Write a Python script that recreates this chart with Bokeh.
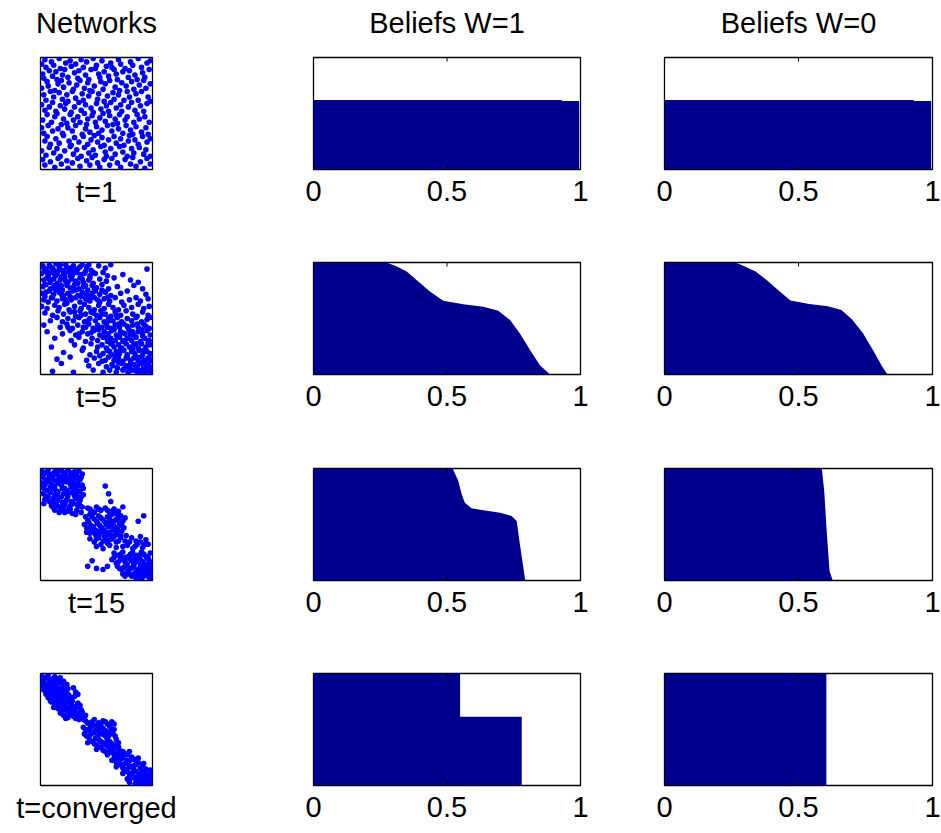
import math
from bokeh.plotting import figure
from bokeh.layouts import column, row
from bokeh.models import Range1d, FixedTicker, Title
from bokeh.embed import file_html
from bokeh.resources import INLINE

# ---------------- data ----------------
ROW_LABELS = ["t=1", "t=5", "t=15", "t=converged"]
COL_TITLES = ["Networks", "Beliefs W=1", "Beliefs W=0"]
X_TICKS = [0, 0.5, 1]

# network adjacency entries (column index, row index) in percent of agents
NET_T1 = [(0,5),(3,1),(4,8),(9,3),(11,6),(16,0),(17,9),(22,4),(26,2),(27,7),(31,5),(36,1),(38,8),(41,3),(47,0),(49,9),(50,6),(55,2),(59,7),(63,4),(64,8),(70,1),(72,5),(76,9),(81,3),(83,6),(88,0),(91,8),(96,4),(99,2),
          (1,14),(2,18),(7,11),(10,16),(13,12),(14,19),(19,15),(21,10),(24,17),(30,13),(33,18),(34,11),(40,15),(43,19),(45,10),(52,14),(53,17),(57,12),(61,16),(66,10),(68,14),(69,19),(74,12),(79,17),(80,11),(85,15),(87,19),(92,13),(94,17),(98,10),
          (0,27),(5,21),(6,25),(12,29),(15,23),(18,20),(20,26),(25,22),(29,28),(32,24),(35,20),(39,27),(42,22),(44,29),(48,25),(54,21),(56,28),(58,23),(62,20),(67,26),(71,29),(73,22),(77,25),(82,21),(84,28),(89,24),(93,20),(95,27),(99,23),
          (2,33),(4,38),(8,30),(11,35),(16,31),(19,37),(23,33),(24,39),(28,30),(31,36),(37,32),(38,38),(43,34),(46,30),(51,37),(52,32),(57,39),(60,34),(65,31),(66,37),(70,33),(75,38),(78,30),(80,35),(86,32),(88,38),(91,30),(97,35),(99,39),
          (0,42),(3,47),(7,44),(10,40),(13,48),(17,43),(21,46),(22,41),(27,49),(30,44),(34,40),(36,47),(40,42),(45,45),(47,49),(50,41),(54,46),(59,43),(61,48),(63,40),(68,45),(72,42),(73,48),(79,44),(82,40),(85,47),(90,43),(93,48),(96,41),
          (1,56),(5,51),(9,58),(12,53),(14,50),(20,55),(23,59),(26,51),(29,56),(33,53),(35,58),(39,50),(42,55),(46,52),(49,58),(53,54),(56,50),(58,57),(62,52),(67,55),(69,59),(71,51),(76,56),(78,53),(84,58),(87,51),(89,55),(94,53),(98,58),
          (0,63),(2,68),(6,61),(10,66),(15,64),(18,60),(19,68),(24,63),(28,66),(31,61),(37,69),(40,64),(41,60),(44,67),(50,62),(52,68),(55,65),(60,61),(64,66),(65,60),(70,64),(74,68),(77,61),(81,65),(83,69),(86,62),(91,67),(95,63),(97,69),
          (3,75),(5,71),(8,78),(13,73),(16,77),(20,70),(25,75),(27,79),(30,72),(34,76),(38,71),(42,78),(45,74),(48,70),(51,76),(55,72),(57,79),(61,74),(66,71),(68,77),(72,73),(75,79),(79,75),(80,70),(85,74),(88,78),(92,71),(96,76),(99,73),
          (0,84),(4,88),(7,81),(11,86),(14,82),(17,89),(21,84),(26,80),(29,87),(32,83),(36,89),(39,81),(43,86),(47,83),(49,88),(54,80),(58,85),(59,89),(63,82),(67,87),(71,80),(74,85),(78,89),(82,82),(84,86),(89,81),(93,87),(95,83),(99,89),
          (1,92),(3,97),(8,94),(12,99),(15,91),(18,96),(23,93),(24,100),(28,95),(33,91),(35,98),(41,93),(44,97),(46,90),(51,95),(53,99),(57,92),(62,97),(64,91),(69,95),(72,99),(76,92),(81,96),(83,90),(86,98),(90,94),(94,100),(96,91),(99,96)]

NET_T5 = [(1,2),(4,5),(7,1),(10,4),(13,0),(16,3),(19,6),(22,1),(26,4),(29,2),(33,5),(37,1),(41,3),(45,6),(52,2),(58,4),(63,1),(96,5),
          (0,9),(3,7),(6,11),(9,8),(12,10),(15,7),(18,12),(21,9),(25,7),(28,11),(32,8),(36,10),(40,7),(44,11),(49,9),(56,8),(60,11),(74,10),
          (2,15),(5,13),(8,17),(11,14),(14,18),(17,15),(21,13),(24,17),(27,14),(31,16),(35,13),(38,17),(43,15),(47,18),(53,14),(59,16),(66,13),(81,15),(88,17),
          (1,21),(4,19),(8,23),(12,20),(15,22),(19,24),(23,20),(26,22),(30,19),(34,23),(38,21),(42,24),(46,20),(50,22),(55,19),(61,23),(69,21),(84,20),(92,23),
          (0,27),(3,30),(7,25),(11,28),(16,26),(20,29),(24,27),(28,25),(33,29),(37,26),(41,28),(45,30),(49,25),(53,28),(58,26),(63,29),(72,27),(78,25),(95,28),
          (2,33),(6,35),(10,31),(14,34),(19,32),(23,36),(27,33),(31,31),(35,35),(40,32),(44,34),(48,31),(53,35),(57,32),(62,34),(67,31),(73,35),(80,33),(86,31),(90,34),(97,32),
          (0,39),(5,41),(12,38),(16,40),(21,37),(25,42),(30,39),(36,41),(39,37),(43,40),(48,42),(52,38),(57,41),(61,37),(65,40),(70,42),(75,38),(82,40),(88,37),(93,41),(98,39),
          (3,45),(10,47),(15,43),(20,46),(26,44),(31,48),(35,43),(40,46),(45,44),(50,47),(54,43),(58,46),(63,48),(67,44),(72,47),(77,43),(83,46),(87,48),(92,44),(97,47),
          (8,52),(14,49),(19,53),(24,50),(29,52),(34,49),(39,53),(44,50),(49,52),(53,49),(57,53),(61,50),(65,52),(69,49),(73,53),(78,50),(82,52),(86,49),(91,53),(96,51),(99,49),
          (2,56),(17,58),(23,55),(28,59),(33,56),(38,58),(43,55),(47,59),(51,56),(55,58),(59,55),(63,59),(67,56),(71,58),(75,55),(79,59),(83,56),(88,58),(93,55),(98,59),
          (5,62),(19,64),(26,61),(31,65),(37,62),(42,64),(48,61),(53,65),(57,62),(61,64),(64,61),(68,65),(72,62),(76,64),(80,61),(84,65),(88,62),(92,64),(96,61),(99,65),
          (12,68),(27,70),(34,67),(40,71),(46,68),(51,70),(56,67),(60,71),(63,68),(67,70),(71,67),(74,71),(78,68),(82,70),(86,67),(90,71),(94,68),(98,70),
          (9,76),(30,74),(38,77),(45,73),(51,76),(55,74),(59,77),(63,73),(66,76),(70,74),(73,77),(77,73),(80,76),(84,74),(88,77),(91,73),(95,76),(99,74),
          (20,81),(37,79),(44,83),(50,80),(56,82),(60,79),(64,83),(68,80),(71,82),(75,79),(78,83),(82,80),(85,82),(89,79),(92,83),(96,80),(99,82),
          (14,87),(26,85),(41,88),(48,86),(55,89),(61,85),(66,88),(70,86),(74,89),(78,85),(81,88),(84,86),(88,89),(91,85),(94,88),(97,86),(99,89),
          (18,91),(43,93),(52,91),(59,94),(64,92),(69,95),(73,91),(77,93),(80,95),(84,92),(87,94),(90,91),(93,95),(96,92),(99,94),
          (10,98),(29,99),(47,97),(56,99),(62,97),(68,99),(74,97),(79,99),(83,97),(87,99),(91,97),(94,99),(97,97),(99,100),
          (2,4),(5,8),(8,3),(11,6),(14,9),(17,1),(20,10),(23,4),(27,8),(30,5),(35,3),(39,9),(43,1),(47,8),(3,19),(7,14),(10,22),(13,11),(18,20),(22,16),
          (26,11),(29,22),(33,18),(37,14),(40,20),(44,13),(48,23),(4,26),(9,31),(13,24),(18,28),(22,33),(26,30),(31,24),(36,30),(42,33),(46,27),(51,33),(55,24),(60,31),
          (60,58),(66,60),(70,55),(74,63),(78,57),(83,62),(87,55),(91,60),(95,57),(58,67),(64,73),(69,66),(75,70),(81,65),(86,73),(92,66),(97,72),(62,80),(67,84),
          (72,78),(77,86),(83,78),(87,85),(93,79),(98,86),(65,93),(70,90),(75,96),(81,91),(86,96),(92,90),(96,95),(58,88),(53,84),(100,97),(89,100),(79,100),
          (30,44),(36,47),(42,52),(47,45),(55,46),(62,52),(68,47),(40,58),(45,63),(52,60),(24,58),(34,64)]

NET_T15 = [(0,1),(3,3),(6,0),(9,4),(12,2),(15,5),(18,1),(21,3),(24,0),(27,4),(30,2),(34,1),(37,4),
           (1,7),(4,9),(7,6),(10,8),(13,10),(16,7),(19,9),(22,6),(25,8),(29,10),(32,7),(35,9),
           (0,12),(3,14),(6,11),(9,13),(12,15),(15,12),(18,14),(22,11),(26,13),(30,15),(33,12),(37,14),
           (2,17),(5,19),(8,16),(12,18),(15,20),(19,17),(23,19),(27,16),(31,18),(35,20),(38,17),
           (1,22),(4,24),(8,21),(12,23),(16,25),(20,22),(24,24),(28,21),(32,23),(36,25),
           (3,27),(7,29),(11,26),(15,28),(19,30),(23,27),(27,29),(31,26),(35,28),
           (2,31),(9,33),(13,31),(17,34),(21,32),(25,35),(29,31),(33,33),(37,34),
           (12,37),(16,39),(20,36),(24,38),(28,40),(32,37),(36,39),
           (61,22),(63,29),(58,15),
           (42,35),(46,38),(50,34),(54,37),(58,35),(62,39),(66,36),(70,38),(74,34),
           (40,43),(44,41),(48,45),(52,42),(56,46),(60,43),(64,41),(68,45),(72,42),(76,44),
           (39,50),(43,48),(47,52),(51,49),(55,53),(59,50),(63,48),(67,52),(71,49),(75,53),
           (41,57),(45,55),(49,59),(53,56),(57,60),(61,57),(65,55),(69,59),(73,56),(77,60),
           (44,63),(48,66),(52,62),(56,65),(60,67),(64,63),(68,66),(72,62),(76,65),
           (50,70),(56,72),(62,69),(68,71),(74,70),
           (88,47),(93,42),(42,88),(50,90),(56,91),(60,88),(46,83),
           (82,62),(86,65),(90,61),(95,64),
           (78,69),(83,72),(87,68),(92,71),(97,68),
           (66,76),(70,78),(74,75),(79,79),(83,76),(87,78),(91,75),(95,79),(99,76),
           (64,82),(68,85),(72,81),(76,84),(80,81),(84,85),(88,82),(92,84),(96,81),(99,85),
           (69,88),(73,91),(77,87),(81,90),(84,87),(87,91),(90,88),(93,90),(96,87),(99,91),
           (74,95),(78,93),(82,97),(85,94),(88,99),(90,95),(92,98),(94,93),(96,96),(98,99),(100,94),(86,100),
           (90,85),(95,89),(97,95),(93,97),(100,98),(99,88),
           (2,4),(5,2),(8,7),(11,5),(14,1),(17,9),(20,5),(23,11),(26,3),(29,6),(32,3),(36,7),(1,16),(4,12),(7,19),(10,16),(14,22),(17,13),(21,17),(24,21),
           (28,13),(31,21),(34,15),(6,25),(10,29),(14,33),(18,25),(22,29),(26,33),(30,24),(34,30),(38,23),(17,37),(21,39),(26,36),(31,41),(35,33),(11,35),
           (44,36),(48,39),(52,36),(60,37),(64,38),(68,40),(42,46),(46,43),(50,47),(54,44),(58,48),(62,45),(66,47),(70,44),(74,47),(41,53),(45,51),(49,55),
           (53,51),(57,55),(61,52),(65,51),(69,54),(73,51),(44,58),(48,57),(52,60),(56,57),(60,59),(64,60),(68,57),(72,60),(50,63),(58,63),(66,61),(70,65),(54,68),(62,64),
           (80,66),(85,70),(90,66),(94,68),(72,77),(76,80),(81,77),(85,80),(89,78),(93,77),(97,80),(66,80),(70,84),(74,82),(78,86),(82,83),(86,84),(90,82),(94,86),(98,83),
           (71,90),(75,89),(79,92),(83,89),(87,93),(91,90),(95,92),(99,96),(76,97),(80,95),(84,96),(88,96),(92,92),(98,91)]

NET_TC = [(0,1),(3,3),(6,0),(9,4),(12,2),(15,4),
          (1,7),(4,9),(7,6),(10,8),(13,10),(16,7),(19,9),
          (3,12),(6,14),(9,11),(12,13),(15,15),(18,12),(21,14),(29,12),(31,16),
          (7,17),(10,19),(13,16),(16,18),(19,20),(22,17),(25,19),(33,18),
          (10,22),(13,24),(16,21),(19,23),(22,25),(25,22),(28,24),
          (12,27),(15,29),(18,26),(21,28),(24,30),(27,27),(30,29),(33,26),
          (15,31),(18,33),(21,32),(24,34),(27,31),(30,33),(33,35),(36,32),
          (20,37),(24,39),(28,36),(31,40),(35,38),(38,41),(40,37),
          (40,42),(44,45),(48,41),(52,44),(56,42),(60,45),(64,43),
          (38,48),(42,51),(46,47),(50,50),(54,48),(58,51),(62,47),(66,50),
          (39,54),(43,57),(47,53),(51,56),(55,54),(59,57),(63,53),(67,56),
          (44,60),(48,63),(52,59),(56,62),(60,60),(64,63),(68,59),
          (52,66),(56,69),(60,65),(64,68),(68,66),(71,69),
          (62,71),(66,73),(70,72),(74,70),(78,73),
          (66,77),(70,79),(74,76),(78,78),(82,75),(86,79),
          (70,82),(74,85),(78,81),(82,84),(86,82),(90,85),(93,81),
          (76,88),(80,91),(84,87),(88,90),(92,88),(96,91),(99,87),
          (82,94),(86,97),(89,93),(92,96),(95,94),(97,99),(99,95),(90,100),(100,100),(94,99),
          (2,5),(5,2),(8,7),(11,4),(14,8),(17,3),(20,6),(0,10),(2,14),(5,11),(8,16),(11,15),(14,12),(17,16),(20,11),(23,9),(24,13),(4,18),(6,21),(9,25),
          (12,19),(15,23),(18,17),(21,22),(24,18),(27,21),(30,20),(8,24),(11,30),(14,26),(17,30),(20,27),(23,31),(26,26),(29,33),(32,30),(35,28),(17,35),
          (20,32),(22,40),(26,36),(29,38),(32,36),(34,41),(37,34),(39,39),
          (42,44),(46,43),(50,46),(54,45),(58,43),(62,46),(66,45),(40,50),(44,49),(48,52),(52,51),(56,49),(60,52),(64,50),(41,56),(45,54),(49,58),(53,53),
          (57,55),(61,56),(65,54),(42,62),(46,61),(50,64),(54,61),(58,64),(62,61),(66,64),(70,62),(50,68),(54,66),(58,70),(62,67),(66,70),(70,66),
          (60,73),(64,70),(68,75),(72,74),(76,72),(80,70),(64,78),(68,80),(72,77),(76,81),(80,79),(84,77),(88,76),(68,84),(72,82),(76,86),(80,84),(84,83),
          (88,80),(92,83),(95,86),(74,90),(78,88),(82,90),(86,88),(90,90),(94,89),(98,92),(78,95),(80,98),(84,93),(88,95),(91,98),(93,92),(96,97),(98,96),
          (100,90),(85,100),(87,98)]

NETWORKS = [NET_T1, NET_T5, NET_T15, NET_TC]

# sorted beliefs: agent fraction (x) and belief (y)
W1_T1_X = [0, 0.93, 0.93, 0.995, 0.995]
W1_T1_Y = [0.62, 0.62, 0.612, 0.612, 0.0]
W1_T5_X = [0, 0.274, 0.312, 0.349, 0.386, 0.436, 0.486, 0.561, 0.636, 0.692, 0.736, 0.773, 0.811, 0.848, 0.886]
W1_T5_Y = [1.0, 1.0, 0.964, 0.919, 0.844, 0.740, 0.659, 0.627, 0.606, 0.570, 0.487, 0.367, 0.218, 0.083, 0.0]
W1_T15_X = [0, 0.521, 0.542, 0.555, 0.567, 0.592, 0.636, 0.699, 0.742, 0.761, 0.773, 0.786, 0.793]
W1_T15_Y = [1.0, 1.0, 0.89, 0.77, 0.695, 0.645, 0.627, 0.606, 0.576, 0.531, 0.323, 0.113, 0.0]
W1_TC_X = [0, 0.549, 0.549, 0.78, 0.78]
W1_TC_Y = [1.0, 1.0, 0.613, 0.613, 0.0]

W0_T1_X = [0, 0.93, 0.93, 0.995, 0.995]
W0_T1_Y = [0.62, 0.62, 0.612, 0.612, 0.0]
W0_T5_X = [0, 0.265, 0.30, 0.34, 0.38, 0.43, 0.47, 0.54, 0.61, 0.66, 0.70, 0.74, 0.78, 0.81, 0.832]
W0_T5_Y = [1.0, 1.0, 0.965, 0.92, 0.845, 0.74, 0.66, 0.63, 0.61, 0.575, 0.49, 0.37, 0.21, 0.08, 0.0]
W0_T15_X = [0, 0.587, 0.596, 0.606, 0.616, 0.628]
W0_T15_Y = [1.0, 1.0, 0.80, 0.41, 0.083, 0.0]
W0_TC_X = [0, 0.604, 0.604]
W0_TC_Y = [1.0, 1.0, 0.0]

BELIEFS_W1 = [(W1_T1_X, W1_T1_Y), (W1_T5_X, W1_T5_Y), (W1_T15_X, W1_T15_Y), (W1_TC_X, W1_TC_Y)]
BELIEFS_W0 = [(W0_T1_X, W0_T1_Y), (W0_T5_X, W0_T5_Y), (W0_T15_X, W0_T15_Y), (W0_TC_X, W0_TC_Y)]

# ---------------- styling ----------------
FONT = "Liberation Sans"
FS = "29px"
NAVY = "#00008F"
BLUE = "#0000FF"

HEADER_TOP = 38      # header strip holding the column titles
HEADER_FRAME = 1
ROW_TOP = [57 - HEADER_TOP - HEADER_FRAME, 45, 46, 46]
ROW_BOTTOM = [48, 48, 47, 48]
FRAME_H = 112
COL_W = [240, 360, 341]
COL_LEFT = [40, 73, 64]
COL_RIGHT = [88, 20, 9]


def header_fig(ci):
    p = figure(width=COL_W[ci], height=HEADER_TOP + HEADER_FRAME, title=COL_TITLES[ci],
               toolbar_location=None, output_backend="svg",
               min_border_left=COL_LEFT[ci], min_border_right=COL_RIGHT[ci],
               min_border_top=HEADER_TOP, min_border_bottom=0,
               x_range=Range1d(0, 1), y_range=Range1d(0, 1),
               background_fill_color="white", border_fill_color="white")
    p.title.align = "center"
    p.title.vertical_align = "bottom"
    p.title.text_font = FONT
    p.title.text_font_size = FS
    p.title.text_font_style = "normal"
    p.title.text_color = "black"
    p.title.standoff = 0
    p.outline_line_color = None
    p.xaxis.visible = False
    p.yaxis.visible = False
    p.xgrid.visible = False
    p.ygrid.visible = False
    return p


def base_fig(ci, ri):
    h = ROW_TOP[ri] + FRAME_H + ROW_BOTTOM[ri]
    p = figure(width=COL_W[ci], height=h, toolbar_location=None, output_backend="svg",
               min_border_left=COL_LEFT[ci], min_border_right=COL_RIGHT[ci],
               min_border_top=ROW_TOP[ri], min_border_bottom=ROW_BOTTOM[ri],
               background_fill_color="white", border_fill_color="white")
    p.outline_line_color = "black"
    p.outline_line_width = 1.3
    p.xgrid.visible = False
    p.ygrid.visible = False
    return p


def network_fig(ri):
    p = base_fig(0, ri)
    p.x_range = Range1d(-1, 101)
    p.y_range = Range1d(101, -1)
    p.xaxis.visible = False
    p.yaxis.visible = False
    pts = NETWORKS[ri]
    p.scatter([a for a, b in pts], [b for a, b in pts], size=5.6, color=BLUE, line_color=None)
    lab = Title(text=ROW_LABELS[ri], align="center", text_font=FONT, text_font_size=FS,
                text_font_style="normal", text_color="black", standoff=8)
    p.add_layout(lab, "below")
    return p


def belief_fig(ci, ri, data):
    p = base_fig(ci, ri)
    p.x_range = Range1d(0, 1)
    p.y_range = Range1d(0, 1)
    xs, ys = data
    p.varea(x=xs, y1=[0] * len(xs), y2=ys, fill_color=NAVY)
    # inward tick marks on the top edge (mirrored box ticks)
    p.scatter(x=X_TICKS, y=[1] * len(X_TICKS), marker="dash", angle=math.pi / 2,
              size=8, line_color="black", line_width=1)
    p.yaxis.visible = False
    ax = p.xaxis[0]
    ax.ticker = FixedTicker(ticks=X_TICKS)
    ax.major_label_overrides = {0: "0", 0.5: "0.5", 1: "1"}
    ax.major_tick_in = 4
    ax.major_tick_out = 0
    ax.minor_tick_line_color = None
    ax.axis_line_color = None
    ax.major_label_text_font = FONT
    ax.major_label_text_font_size = FS
    ax.major_label_text_color = "black"
    ax.major_label_standoff = 11
    return p


rows = [row(header_fig(0), header_fig(1), header_fig(2))]
for ri in range(4):
    rows.append(row(network_fig(ri), belief_fig(1, ri, BELIEFS_W1[ri]), belief_fig(2, ri, BELIEFS_W0[ri])))

layout = column(*rows)
open("out.html", "w").write(file_html(layout, INLINE))
